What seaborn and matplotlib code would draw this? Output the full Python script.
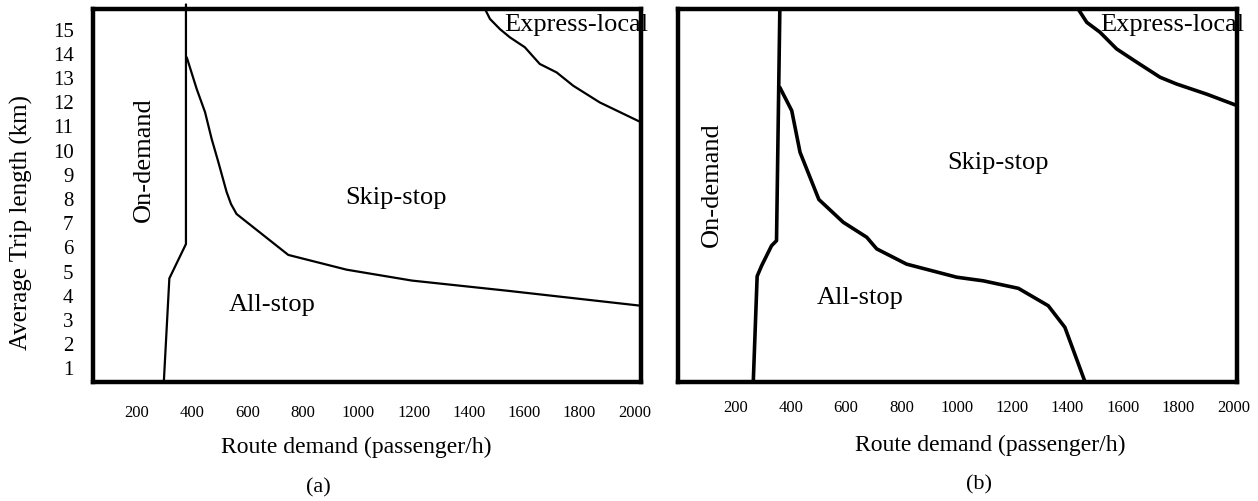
import matplotlib
matplotlib.use("Agg")
import matplotlib.pyplot as plt
import seaborn as sns
import pandas as pd

# ---------------- data ----------------
x_ticks = [200, 400, 600, 800, 1000, 1200, 1400, 1600, 1800, 2000]
y_ticks = list(range(1, 16))

# panel (a)
a_ondemand_x = [297, 317, 377, 377]
a_ondemand_y = [0.40, 4.68, 6.10, 16.0]
a_skip_x = [380, 416, 446, 470, 494, 524, 540, 560, 747, 958, 1194, 1539, 2022]
a_skip_y = [13.81, 12.50, 11.55, 10.44, 9.49, 8.25, 7.75, 7.34, 5.65, 5.04, 4.59, 4.17, 3.55]
a_express_x = [1458, 1476, 1512, 1548, 1602, 1656, 1717, 1777, 1873, 2022]
a_express_y = [15.81, 15.40, 14.98, 14.64, 14.23, 13.54, 13.19, 12.64, 11.95, 11.13]

# panel (b)
b_ondemand_x = [265, 279, 295, 331, 349, 361]
b_ondemand_y = [0.40, 4.77, 5.20, 6.03, 6.24, 15.81]
b_skip_x = [361, 404, 434, 502, 590, 675, 711, 819, 1000, 1096, 1223, 1331, 1391, 1464]
b_skip_y = [12.57, 11.61, 9.89, 7.94, 7.00, 6.38, 5.90, 5.27, 4.73, 4.58, 4.27, 3.55, 2.66, 0.40]
b_express_x = [1439, 1470, 1518, 1578, 1651, 1735, 1795, 1904, 2013]
b_express_y = [15.81, 15.26, 14.85, 14.16, 13.61, 12.99, 12.71, 12.29, 11.82]

region_labels = ["On-demand", "Skip-stop", "All-stop", "Express-local"]
x_label = "Route demand (passenger/h)"
y_label = "Average Trip length (km)"
panel_labels = ["(a)", "(b)"]

# ---------------- style ----------------
sns.set_theme(style="white")
plt.rcParams["font.family"] = ["Liberation Serif", "DejaVu Serif"]
plt.rcParams["text.color"] = "black"
plt.rcParams["xtick.color"] = "black"
plt.rcParams["ytick.color"] = "black"

W, H = 1258, 502
fig = plt.figure(figsize=(W / 100, H / 100), dpi=100)

def frac_rect(l, r, t, b):
    return [l / W, (H - b) / H, (r - l) / W, (b - t) / H]

ax_a = fig.add_axes(frac_rect(93, 641, 10, 383))
ax_b = fig.add_axes(frac_rect(678, 1237, 10, 383))

def draw(ax, xs, ys, lw, clip=True):
    df = pd.DataFrame({"x": xs, "y": ys})
    sns.lineplot(data=df, x="x", y="y", sort=False, estimator=None,
                 color="black", lw=lw, ax=ax)
    ax.lines[-1].set_clip_on(clip)
    ax.lines[-1].set_solid_joinstyle("round")

# panel (a)
draw(ax_a, a_ondemand_x, a_ondemand_y, 1.6, clip=False)
draw(ax_a, a_skip_x, a_skip_y, 1.6)
draw(ax_a, a_express_x, a_express_y, 1.6)
ax_a.set_xlim(41, 2022)
ax_a.set_ylim(0.40, 15.81)

# panel (b)
draw(ax_b, b_ondemand_x, b_ondemand_y, 2.6)
draw(ax_b, b_skip_x, b_skip_y, 2.6)
draw(ax_b, b_express_x, b_express_y, 2.6)
ax_b.set_xlim(-7, 2013)
ax_b.set_ylim(0.40, 15.81)

for ax in (ax_a, ax_b):
    for sp in ax.spines.values():
        sp.set_visible(True)
        sp.set_color("black")
        sp.set_linewidth(3.2)
    ax.set_xlabel("")
    ax.set_ylabel("")
    ax.set_xticks(x_ticks)
    ax.set_xticklabels([str(v) for v in x_ticks], fontsize=12)
    ax.tick_params(axis="both", length=0, colors="black")

ax_a.set_yticks(y_ticks)
ax_a.set_yticklabels([str(v) for v in y_ticks], fontsize=15)
ax_a.tick_params(axis="y", pad=14)
ax_a.tick_params(axis="x", pad=16)
ax_b.set_yticks([])
ax_b.tick_params(axis="x", pad=12)

fs = 19
# region labels (a)
ax_a.text(226, 9.61, region_labels[0], rotation=90, ha="center", va="center", fontsize=fs)
ax_a.text(1138, 8.04, region_labels[1], ha="center", va="center", fontsize=fs)
ax_a.text(687, 3.62, region_labels[2], ha="center", va="center", fontsize=fs)
ax_a.text(1789, 15.19, region_labels[3], ha="center", va="center", fontsize=fs, clip_on=False)
# region labels (b)
ax_b.text(115, 8.58, region_labels[0], rotation=90, ha="center", va="center", fontsize=fs)
ax_b.text(1149, 9.48, region_labels[1], ha="center", va="center", fontsize=fs)
ax_b.text(650, 3.91, region_labels[2], ha="center", va="center", fontsize=fs)
ax_b.text(1780, 15.19, region_labels[3], ha="center", va="center", fontsize=fs, clip_on=False)

# axis labels as figure text
fig.text(21 / W, 1 - 223 / H, y_label, rotation=90, ha="center", va="center", fontsize=18)
fig.text(356 / W, 1 - 447 / H, x_label, ha="center", va="center", fontsize=17)
fig.text(990 / W, 1 - 445 / H, x_label, ha="center", va="center", fontsize=17)
fig.text(318 / W, 1 - 488 / H, panel_labels[0], ha="center", va="center", fontsize=16)
fig.text(979 / W, 1 - 485 / H, panel_labels[1], ha="center", va="center", fontsize=16)

fig.savefig("out.png", dpi=100, facecolor="white")
